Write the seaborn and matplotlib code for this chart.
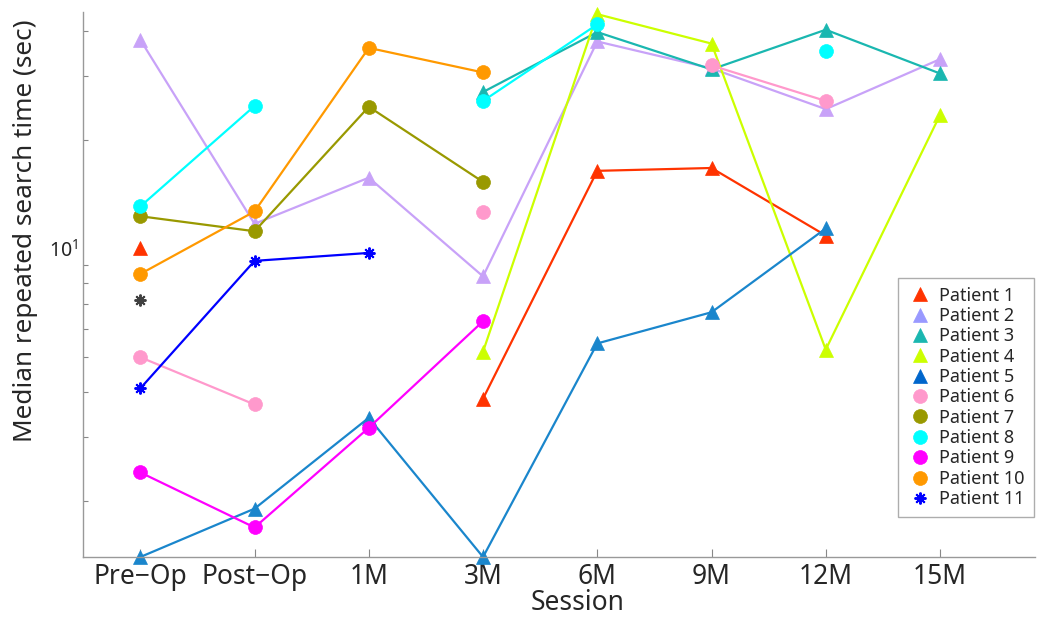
import numpy as np
import pandas as pd
import matplotlib
matplotlib.use("Agg")
import matplotlib.pyplot as plt
import seaborn as sns
from matplotlib.lines import Line2D
from matplotlib.ticker import NullFormatter, LogLocator

# ============= data =============
nan = np.nan
sessions = ['Pre\u2212Op', 'Post\u2212Op', '1M', '3M', '6M', '9M', '12M', '15M']
patients = ['Patient %d' % i for i in range(1, 12)]

p1 = [10.0, nan, nan, 3.84, 16.4, 16.7, 10.86, nan]
p2 = [37.8, 11.7, 15.7, 8.37, 37.4, 31.5, 24.3, 33.4]
p3 = [nan, nan, nan, 27.1, 39.7, 31.3, 40.3, 30.5]
p4 = [nan, nan, nan, 5.18, 44.5, 36.9, 5.25, 23.4]
p5 = [1.40, 1.905, 3.40, 1.40, 5.46, 6.66, 11.36, nan]
p6 = [5.0, 3.70, nan, 12.6, nan, 32.1, 25.6, nan]
p7 = [12.28, 11.16, 24.67, 15.28, nan, nan, nan, nan]
p8 = [13.07, 24.8, nan, 25.6, 41.7, nan, 35.2, nan]
p9 = [2.40, 1.69, 3.19, 6.29, nan, nan, nan, nan]
p10 = [8.50, 12.66, 35.9, 30.7, nan, nan, nan, nan]
p11 = [4.10, 9.24, 9.72, nan, nan, nan, nan, nan]
extra = [7.19, nan, nan, nan, nan, nan, nan, nan]   # grey asterisk, not in legend

values = [p1, p2, p3, p4, p5, p6, p7, p8, p9, p10, p11]
colors = ['#FF3300', '#C8A2F8', '#1AB7B0', '#CCFF00', '#1A86CC',
          '#FF99CC', '#999900', '#00FFFF', '#FF00FF', '#FF9900', '#0000FF']
legend_colors = ['#FF3300', '#9999FF', '#1AB7B0', '#CCFF00', '#0066CC',
                 '#FF99CC', '#999900', '#00FFFF', '#FF00FF', '#FF9900', '#0000FF']
ASTER = (8, 2, 0)
markers = ['^'] * 5 + ['o'] * 5 + [ASTER]


def to_frame(vals):
    # split into contiguous runs so gaps are not bridged
    rows, seg = [], 0
    prev = False
    for i, v in enumerate(vals):
        if np.isnan(v):
            prev = False
            continue
        if not prev:
            seg += 1
        rows.append({'pos': i, 'time': v, 'seg': seg})
        prev = True
    return pd.DataFrame(rows)


def msize(m):
    return (8.5, 1.4) if m == ASTER else (10, 0.5)


sns.set_theme(style='white')
plt.rcParams['font.family'] = ['Noto Sans', 'DejaVu Sans']

fig, ax = plt.subplots(figsize=(10.4, 6.18), dpi=100)
fig.subplots_adjust(left=0.080, right=0.995, bottom=0.0987, top=0.981)

for vals, c, m in zip(values + [extra], colors + ['#404040'], markers + [ASTER]):
    df = to_frame(vals)
    ms, mew = msize(m)
    sns.lineplot(data=df, x='pos', y='time', units='seg', estimator=None,
                 color=c, marker=m, markersize=ms,
                 markeredgecolor=c, markeredgewidth=mew,
                 linewidth=1.6, ax=ax, clip_on=False, legend=False)

ax.set_yscale('log')
ax.set_ylim(1.40, 45.2)
ax.set_xlim(-0.5, 7.83)
ax.set_xticks(range(len(sessions)))
ax.set_xticklabels(sessions, fontsize=19)
ax.yaxis.set_minor_locator(LogLocator(base=10, subs=np.arange(2, 10)))
ax.yaxis.set_minor_formatter(NullFormatter())
ax.tick_params(axis='y', which='major', labelsize=14, direction='in',
               length=7, width=0.8, color='#888888', labelcolor='#222222')
ax.tick_params(axis='y', which='minor', direction='in', length=3.5,
               width=0.8, color='#888888', left=True)
ax.tick_params(axis='x', direction='in', length=6, width=0.8,
               color='#888888', bottom=True, pad=4)

for s in ['top', 'right']:
    ax.spines[s].set_visible(False)
for s in ['left', 'bottom']:
    ax.spines[s].set_color('#999999')
    ax.spines[s].set_linewidth(1.0)

ax.set_xlabel('Session', fontsize=19, va='top')
ax.xaxis.set_label_coords(0.520, -0.058)
ax.set_ylabel('Median repeated search time (sec)', fontsize=18.8, va='center')
ax.yaxis.set_label_coords(-0.061, 0.598)

handles = []
for m, c in zip(markers, legend_colors):
    ms, mew = msize(m)
    handles.append(Line2D([], [], linestyle='none', marker=m, color=c,
                          markeredgecolor=c, markersize=ms, markeredgewidth=mew))
leg = ax.legend(handles, patients, loc='lower right', bbox_to_anchor=(0.999, 0.073),
                borderaxespad=0, fontsize=13, labelspacing=0.13,
                handletextpad=0.3, handlelength=1.5, fancybox=False,
                frameon=True, borderpad=0.5)
leg.get_frame().set_edgecolor('#999999')
leg.get_frame().set_linewidth(1.0)

fig.savefig('out.png', dpi=100)
